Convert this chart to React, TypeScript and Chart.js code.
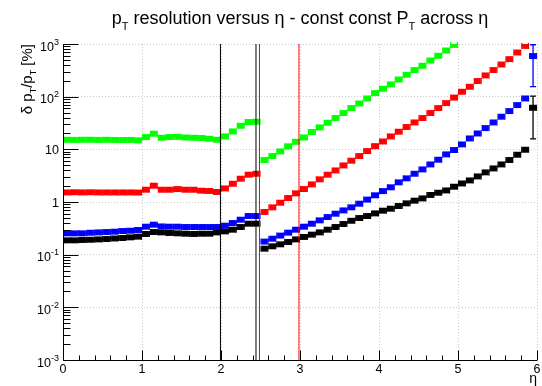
import React, { useEffect, useRef } from "react";
import { Chart, registerables } from "chart.js";

Chart.register(...registerables);

// ---- data ----
const etaCenters = [
  0.05, 0.15, 0.25, 0.35, 0.45, 0.55, 0.65, 0.75, 0.85, 0.95,
  1.05, 1.15, 1.25, 1.35, 1.45, 1.55, 1.65, 1.75, 1.85, 1.95,
  2.05, 2.15, 2.25, 2.35, 2.45, 2.55, 2.65, 2.75, 2.85, 2.95,
  3.05, 3.15, 3.25, 3.35, 3.45, 3.55, 3.65, 3.75, 3.85, 3.95,
  4.05, 4.15, 4.25, 4.35, 4.45, 4.55, 4.65, 4.75, 4.85, 4.95,
  5.05, 5.15, 5.25, 5.35, 5.45, 5.55, 5.65, 5.75, 5.85, 5.95,
];
const etaBinHalfWidth = 0.05;

const greenValues = [
  15.2, 15.1, 15.2, 15.2, 15.1, 15.2, 15.1, 15.0, 15.1, 14.8,
  17.1, 19.8, 16.6, 17.1, 17.3, 16.8, 16.6, 16.4, 15.9, 15.2,
  17.6, 21.9, 28.0, 33.0, 33.4, 6.27, 7.46, 9.14, 11.4, 13.9,
  16.8, 21.3, 26.1, 32.0, 39.3, 48.8, 60.7, 74.3, 92.5, 117,
  141, 171, 212, 260, 320, 386, 486, 597, 753, 960,
  null, null, null, null, null, null, null, null, null, null,
];
const redValues = [
  1.52, 1.53, 1.52, 1.53, 1.52, 1.52, 1.52, 1.52, 1.52, 1.51,
  1.71, 2.04, 1.71, 1.71, 1.76, 1.71, 1.71, 1.64, 1.62, 1.55,
  1.81, 2.22, 2.77, 3.30, 3.44, 0.646, 0.791, 0.970, 1.19, 1.46,
  1.76, 2.16, 2.69, 3.30, 3.98, 4.95, 6.08, 7.45, 9.27, 11.5,
  14.1, 17.6, 21.6, 26.5, 32.4, 39.3, 48.9, 60.7, 75.5, 96,
  124, 154, 198, 253, 320, 408, 516, 690, 920, null,
];
const blueValues = [
  0.254, 0.254, 0.254, 0.261, 0.265, 0.269, 0.273, 0.281, 0.285, 0.294,
  0.340, 0.371, 0.344, 0.340, 0.340, 0.335, 0.335, 0.335, 0.335, 0.335,
  0.355, 0.399, 0.461, 0.542, 0.542, 0.177, 0.201, 0.230, 0.262, 0.298,
  0.340, 0.387, 0.448, 0.518, 0.600, 0.693, 0.791, 0.929, 1.11, 1.34,
  1.61, 1.90, 2.36, 2.81, 3.44, 4.16, 5.17, 6.35, 8.02, 9.69,
  12.4, 16.1, 20.0, 25.3, 32.4, 41.6, 53.2, 69.2, 92.5, 589,
];
const blackValues = [
  0.187, 0.187, 0.190, 0.192, 0.195, 0.198, 0.203, 0.207, 0.213, 0.220,
  0.247, 0.269, 0.265, 0.258, 0.254, 0.250, 0.247, 0.250, 0.250, 0.265,
  0.277, 0.298, 0.335, 0.388, 0.388, 0.130, 0.144, 0.157, 0.174, 0.195,
  0.217, 0.240, 0.265, 0.298, 0.335, 0.382, 0.440, 0.496, 0.542, 0.608,
  0.684, 0.746, 0.839, 0.942, 1.06, 1.17, 1.36, 1.50, 1.66, 1.95,
  2.25, 2.57, 3.06, 3.65, 4.34, 5.17, 6.27, 7.90, 9.82, 61.6,
];
// vertical error bars of the last bin (low, high)
const blueLastBinError = [152, 990];
const blackLastBinError = [15.4, 105];

// reference lines in eta
const refLineEta = [1.993, 2.443, 2.487, 2.987];
const refLineColors = ["#000000", "#000000", "#ff0000", "#ff0000"];

// axis ticks / labels
const xTickValues = [0, 1, 2, 3, 4, 5, 6];
const xTickLabels = ["0", "1", "2", "3", "4", "5", "6"];
const yTickValues = [1e-3, 1e-2, 1e-1, 1, 10, 100, 1000];
const yTickBase = ["10", "10", "10", "1", "10", "10", "10"];
const yTickExp = ["-3", "-2", "-1", "", "", "2", "3"];

const FONT = '"Liberation Sans", Arial, Helvetica, sans-serif';

function makeData(values: (number | null)[]) {
  return etaCenters
    .map((x, i) => ({ x, y: values[i] }))
    .filter((p) => p.y !== null && p.y !== undefined);
}

const rootStyle = {
  id: "rootStyle",
  beforeDatasetsDraw(chart: any) {
    const ctx = chart.ctx;
    const xs = chart.scales.x;
    const ys = chart.scales.y;
    const area = chart.chartArea;
    ctx.save();
    ctx.beginPath();
    ctx.rect(area.left, area.top - 4, area.right - area.left + 4, area.bottom - area.top + 4);
    ctx.clip();
    chart.data.datasets.forEach((ds: any) => {
      ctx.strokeStyle = ds.borderColor;
      ctx.lineWidth = 1.3;
      ctx.beginPath();
      ds.data.forEach((pt: any) => {
        const py = ys.getPixelForValue(pt.y);
        const x1 = xs.getPixelForValue(pt.x - etaBinHalfWidth);
        const x2 = xs.getPixelForValue(pt.x + etaBinHalfWidth);
        ctx.moveTo(x1, py);
        ctx.lineTo(x2, py);
        ctx.moveTo(x1 + 0.6, py - 3);
        ctx.lineTo(x1 + 0.6, py + 3);
        ctx.moveTo(x2 - 0.6, py - 3);
        ctx.lineTo(x2 - 0.6, py + 3);
      });
      ctx.stroke();
    });
    // vertical error bars on the last bin
    const lastEta = etaCenters[etaCenters.length - 1];
    const px = xs.getPixelForValue(lastEta);
    const drawV = (range: number[], color: string) => {
      const y1 = ys.getPixelForValue(range[0]);
      const y2 = ys.getPixelForValue(range[1]);
      ctx.strokeStyle = color;
      ctx.lineWidth = 1.3;
      ctx.beginPath();
      ctx.moveTo(px, y1);
      ctx.lineTo(px, y2);
      ctx.moveTo(px - 3, y1 - 0.5);
      ctx.lineTo(px + 3, y1 - 0.5);
      ctx.moveTo(px - 3, y2 + 0.5);
      ctx.lineTo(px + 3, y2 + 0.5);
      ctx.stroke();
    };
    drawV(blueLastBinError, "#0000ff");
    drawV(blackLastBinError, "#000000");
    ctx.restore();
  },
  afterDatasetsDraw(chart: any) {
    const ctx = chart.ctx;
    const xs = chart.scales.x;
    const ys = chart.scales.y;
    const { left, right, top, bottom } = chart.chartArea;
    ctx.save();
    // reference lines
    refLineEta.forEach((e, i) => {
      const px = xs.getPixelForValue(e);
      ctx.strokeStyle = refLineColors[i];
      ctx.lineWidth = 1;
      ctx.beginPath();
      ctx.moveTo(px, top);
      ctx.lineTo(px, bottom);
      ctx.stroke();
    });
    // axes
    ctx.strokeStyle = "#000";
    ctx.lineWidth = 1;
    ctx.beginPath();
    ctx.moveTo(left + 0.5, top);
    ctx.lineTo(left + 0.5, bottom + 0.5);
    ctx.lineTo(right, bottom + 0.5);
    // x ticks
    for (let k = 0; k <= 30; k++) {
      const v = k * 0.2;
      const px = Math.round(xs.getPixelForValue(v)) + 0.5;
      const len = k % 5 === 0 ? 10 : 5;
      ctx.moveTo(px, bottom + 0.5);
      ctx.lineTo(px, bottom + 0.5 - len);
    }
    // y ticks (log)
    for (let d = -3; d <= 3; d++) {
      for (let m = 1; m <= 9; m++) {
        if (d === 3 && m > 1) break;
        const v = m * Math.pow(10, d);
        const py = Math.round(ys.getPixelForValue(v)) + 0.5;
        const len = m === 1 ? 15 : 7;
        ctx.moveTo(left + 0.5, py);
        ctx.lineTo(left + 0.5 + len, py);
      }
    }
    ctx.stroke();

    // tick labels
    ctx.fillStyle = "#000";
    ctx.font = `12.5px ${FONT}`;
    ctx.textAlign = "center";
    ctx.textBaseline = "alphabetic";
    xTickValues.forEach((v, i) => {
      ctx.fillText(xTickLabels[i], xs.getPixelForValue(v), bottom + 12.5);
    });
    yTickValues.forEach((v, i) => {
      const py = ys.getPixelForValue(v);
      const base = yTickBase[i];
      const exp = yTickExp[i];
      const rightX = left - 4;
      if (!exp) {
        ctx.font = `12.5px ${FONT}`;
        ctx.textAlign = "right";
        ctx.fillText(base, rightX, py + 4.5);
      } else {
        ctx.font = `9px ${FONT}`;
        ctx.textAlign = "right";
        const ew = ctx.measureText(exp).width;
        ctx.fillText(exp, rightX, py + 0.5);
        ctx.font = `12.5px ${FONT}`;
        ctx.fillText(base, rightX - ew, py + 6.5);
      }
    });
    ctx.restore();
  },
  afterDraw(chart: any) {
    const ctx = chart.ctx;
    const { left, right, top } = chart.chartArea;
    ctx.save();
    ctx.fillStyle = "#000";
    ctx.textBaseline = "alphabetic";
    ctx.textAlign = "left";
    // title with subscripts
    const big = `18px ${FONT}`;
    const small = `11px ${FONT}`;
    const parts: [string, string, number][] = [
      ["p", big, 0],
      ["T", small, 6],
      [" resolution versus \u03B7 - const const P", big, 0],
      ["T", small, 6],
      [" across \u03B7", big, 0],
    ];
    let total = 0;
    parts.forEach(([t, f]) => {
      ctx.font = f;
      total += ctx.measureText(t).width;
    });
    let x = (left + right) / 2 - total / 2;
    const baseY = 24;
    parts.forEach(([t, f, dy]) => {
      ctx.font = f;
      ctx.fillText(t, x, baseY + dy);
      x += ctx.measureText(t).width;
    });

    // y-axis title rotated
    const yParts: [string, string, number][] = [
      ["\u03B4 p", `15px ${FONT}`, 0],
      ["T", `9px ${FONT}`, 4],
      ["/p", `15px ${FONT}`, 0],
      ["T", `9px ${FONT}`, 4],
      [" [%]", `15px ${FONT}`, 0],
    ];
    let yTotal = 0;
    yParts.forEach(([t, f]) => {
      ctx.font = f;
      yTotal += ctx.measureText(t).width;
    });
    ctx.translate(32, top);
    ctx.rotate(-Math.PI / 2);
    let tx = -yTotal;
    yParts.forEach(([t, f, dy]) => {
      ctx.font = f;
      ctx.fillText(t, tx, dy);
      tx += ctx.measureText(t).width;
    });
    ctx.setTransform(1, 0, 0, 1, 0, 0);

    // x-axis title
    ctx.font = `14px ${FONT}`;
    ctx.textAlign = "right";
    ctx.fillText("\u03B7", right, 383);
    ctx.restore();
  },
};

export default function App() {
  const canvasRef = useRef<HTMLCanvasElement | null>(null);

  useEffect(() => {
    document.body.style.margin = "0";
    const canvas = canvasRef.current;
    if (!canvas) return;
    const mk = (label: string, values: (number | null)[], color: string) => ({
      label,
      data: makeData(values),
      backgroundColor: color,
      borderColor: color,
      pointStyle: "rect",
      pointRadius: 4.2,
      pointBorderWidth: 0,
      showLine: false,
    });
    const chart = new Chart(canvas, {
      type: "scatter",
      data: {
        datasets: [
          mk("green", greenValues, "#00ff00"),
          mk("red", redValues, "#ff0000"),
          mk("blue", blueValues, "#0000ff"),
          mk("black", blackValues, "#000000"),
        ],
      },
      options: {
        responsive: false,
        animation: false,
        devicePixelRatio: 1,
        layout: { padding: { left: 63, right: 5, top: 44, bottom: 26 } },
        plugins: { legend: { display: false }, tooltip: { enabled: false }, title: { display: false } },
        scales: {
          x: {
            type: "linear",
            min: 0,
            max: 6,
            afterBuildTicks: (scale: any) => {
              scale.ticks = xTickValues.map((v) => ({ value: v }));
            },
            afterFit: (scale: any) => {
              scale.height = 0;
            },
            ticks: { display: false },
            grid: { color: "#c8c8c8", lineWidth: 1, drawTicks: false },
            border: { display: false, dash: [1, 2] },
          },
          y: {
            type: "logarithmic",
            min: 1e-3,
            max: 1e3,
            afterBuildTicks: (scale: any) => {
              scale.ticks = yTickValues.map((v) => ({ value: v }));
            },
            afterFit: (scale: any) => {
              scale.width = 0;
            },
            ticks: { display: false },
            grid: { color: "#c8c8c8", lineWidth: 1, drawTicks: false },
            border: { display: false, dash: [1, 2] },
          },
        },
      } as any,
      plugins: [rootStyle],
    });
    return () => chart.destroy();
  }, []);

  return <canvas ref={canvasRef} width={542} height={386} style={{ display: "block" }} />;
}
